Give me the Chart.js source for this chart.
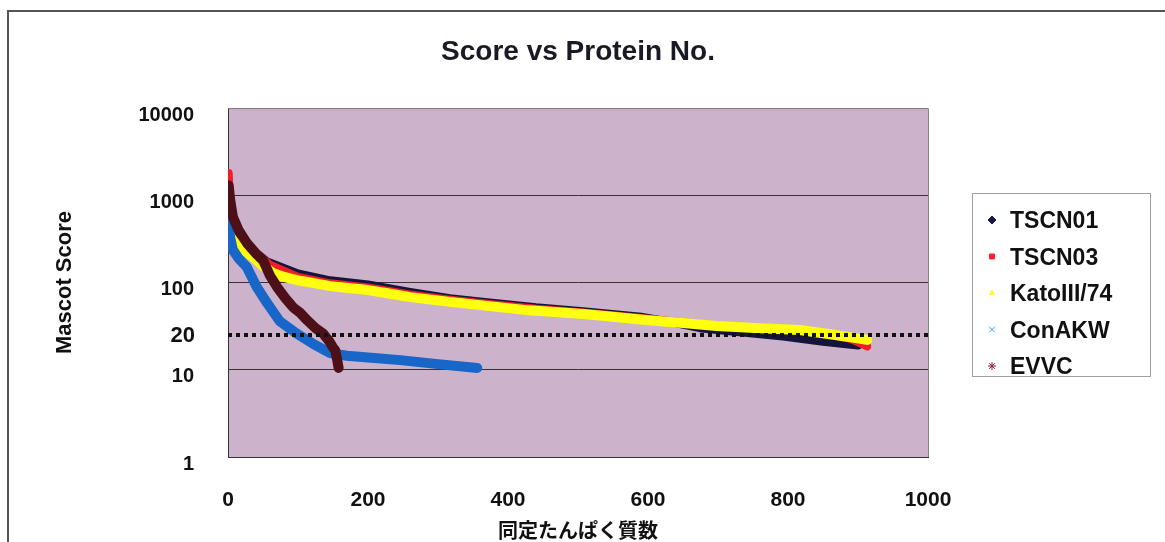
<!DOCTYPE html>
<html>
<head>
<meta charset="utf-8">
<script src="https://cdn.jsdelivr.net/npm/chart.js"></script>
<style>
  html, body { margin: 0; padding: 0; background: #fff; }
  canvas { display: block; }
</style>
</head>
<body>
<canvas id="scoreChart" width="1165" height="542"></canvas>
<script>
// protein rank (x) and Mascot score (y)
const tscn01Rank  = [1, 4, 10, 20, 40, 56, 100, 146, 200, 260, 317, 370, 440, 507, 590, 630, 674, 720, 793, 850, 900];
const tscn01Score = [1000, 600, 420, 320, 220, 175, 127, 106, 95, 78, 66, 59.5, 52, 47, 40.5, 35.5, 30, 27.5, 24, 21, 19];

const tscn03Rank  = [1, 3, 5, 10, 20, 30, 60, 100, 146, 200, 260, 317, 370, 440, 507, 590, 650, 700, 760, 817, 860, 890, 913];
const tscn03Score = [1800, 800, 640, 450, 330, 260, 160, 116, 98, 88, 73, 63.5, 57, 50, 45.5, 39.3, 35, 32, 30, 28.5, 25.5, 22.5, 18.5];

const katoRank  = [1, 4, 8, 15, 25, 36, 50, 64, 80, 100, 125, 146, 175, 200, 230, 260, 317, 370, 430, 507, 531, 600, 650, 698, 760, 817, 860, 890, 913];
const katoScore = [400, 330, 300, 260, 225, 195, 155, 129, 116, 106, 98, 91, 86, 82, 75, 68, 60, 54, 48, 43.5, 42, 37, 34.4, 31.8, 30, 28.6, 25.5, 23.5, 22];

const conakwRank  = [1, 3, 7, 15, 27, 41, 56, 74, 98, 121, 146, 170, 200, 246, 300, 356];
const conakwScore = [500, 330, 237, 190, 150, 89, 58, 36, 26, 20, 15.5, 14.5, 13.8, 12.9, 11.6, 10.5];

const evvcRank  = [1, 3, 7, 15, 27, 40, 50, 60, 70, 82, 93, 103, 113, 125, 136, 145, 150, 153, 156, 158];
const evvcScore = [1300, 900, 565, 400, 283, 215, 180, 120, 89, 66, 52, 45, 37, 30, 26, 21, 18, 16.8, 13, 10.5];

const seriesNames = ['TSCN01', 'TSCN03', 'KatoIII/74', 'ConAKW', 'EVVC'];
const yTicks = [1, 10, 100, 1000, 10000];
const xTicks = [0, 200, 400, 600, 800, 1000];
const thresholdScore = 25;
const thresholdLabel = '20';

function toPoints(ranks, scores) {
    return ranks.map((r, i) => ({ x: r, y: scores[i] }));
}

// line colour, legend marker colour, marker style
const seriesStyles = [
    { line: '#14143c', width: 8, marker: '#1a1a50', style: 'rectRot', radius: 4 },
    { line: '#f01e28', width: 8, marker: '#ff2030', style: 'rect', radius: 3.5 },
    { line: '#ffff10', width: 10, marker: '#ffff30', style: 'triangle', radius: 3 },
    { line: '#1866c8', width: 10, marker: '#38a0f0', style: 'crossRot', radius: 4 },
    { line: '#4e1018', width: 10, marker: '#8e1a30', style: 'star', radius: 4 }
];
const seriesData = [
    toPoints(tscn01Rank, tscn01Score),
    toPoints(tscn03Rank, tscn03Score),
    toPoints(katoRank, katoScore),
    toPoints(conakwRank, conakwScore),
    toPoints(evvcRank, evvcScore)
];

const datasets = seriesNames.map((name, i) => ({
    label: name,
    data: seriesData[i],
    borderColor: seriesStyles[i].line,
    backgroundColor: seriesStyles[i].line,
    borderWidth: seriesStyles[i].width,
    borderJoinStyle: 'round',
    borderCapStyle: 'round',
    pointRadius: 0,
    showLine: true,
    tension: 0,
    order: seriesNames.length - i
}));

datasets.push({
    label: 'threshold',
    data: [{ x: 0, y: thresholdScore }, { x: 1000, y: thresholdScore }],
    borderColor: '#111',
    borderWidth: 4,
    borderDash: [4, 4],
    borderCapStyle: 'butt',
    pointRadius: 0,
    showLine: true,
    order: 0
});

// frame, plot background and plot border
const backdrop = {
    id: 'backdrop',
    beforeDraw(chart) {
        const { ctx, chartArea: a } = chart;
        ctx.save();
        ctx.fillStyle = '#ccb2ca';
        ctx.fillRect(a.left, a.top, a.right - a.left, a.bottom - a.top);
        ctx.strokeStyle = '#555';
        ctx.lineWidth = 2;
        ctx.beginPath();
        ctx.moveTo(8, 542);
        ctx.lineTo(8, 11);
        ctx.lineTo(1165, 11);
        ctx.stroke();
        ctx.restore();
    },
    afterDraw(chart) {
        const { ctx, chartArea: a } = chart;
        ctx.save();
        ctx.strokeStyle = '#8a8090';
        ctx.lineWidth = 1;
        ctx.beginPath();
        ctx.moveTo(a.left, a.top + 0.5);
        ctx.lineTo(a.right + 0.5, a.top + 0.5);
        ctx.lineTo(a.right + 0.5, a.bottom);
        ctx.stroke();

        // the "20" label beside the dotted line
        const y = chart.scales.y.getPixelForValue(thresholdScore);
        ctx.fillStyle = '#111';
        ctx.font = 'bold 22px "Liberation Sans", Arial, sans-serif';
        ctx.textAlign = 'right';
        ctx.textBaseline = 'middle';
        ctx.fillText(thresholdLabel, 195, y + 1);
        ctx.restore();
    }
};

// boxed legend on the right
const boxLegend = {
    id: 'boxLegend',
    afterDraw(chart) {
        const ctx = chart.ctx;
        const box = { x: 972, y: 193, w: 178, h: 183 };
        ctx.save();
        ctx.fillStyle = '#fff';
        ctx.fillRect(box.x, box.y, box.w, box.h);
        ctx.strokeStyle = '#a0a0a0';
        ctx.lineWidth = 1;
        ctx.strokeRect(box.x + 0.5, box.y + 0.5, box.w, box.h);
        ctx.beginPath();
        ctx.rect(box.x, box.y, box.w, box.h);
        ctx.clip();

        ctx.font = 'bold 23px "Liberation Sans", Arial, sans-serif';
        ctx.textAlign = 'left';
        ctx.textBaseline = 'middle';
        seriesNames.forEach((name, i) => {
            const y = 222 + i * 36.5;
            const st = seriesStyles[i];
            ctx.fillStyle = st.marker;
            ctx.strokeStyle = st.marker;
            if (Chart.helpers && Chart.helpers.drawPoint) {
                Chart.helpers.drawPoint(ctx, {
                    pointStyle: st.style, radius: st.radius, rotation: 0, borderWidth: 1.5
                }, 992, y - 2);
            } else {
                ctx.fillRect(989, y - 5, 6, 6);
            }
            ctx.fillStyle = '#111';
            ctx.fillText(name, 1010, y);
        });
        ctx.restore();
    }
};

Chart.defaults.font.family = '"Liberation Sans", Arial, sans-serif';
Chart.defaults.color = '#111';

new Chart(document.getElementById('scoreChart').getContext('2d'), {
    type: 'scatter',
    data: { datasets: datasets },
    options: {
        responsive: false,
        animation: false,
        layout: { padding: { left: 0, right: 237, top: 0, bottom: 0 } },
        scales: {
            x: {
                type: 'linear',
                min: 0,
                max: 1000,
                afterFit(scale) { scale.height = 85; },
                afterBuildTicks(scale) { scale.ticks = xTicks.map(v => ({ value: v })); },
                grid: { display: false, drawTicks: false },
                border: { display: true, color: '#333', width: 1 },
                ticks: {
                    padding: 31,
                    color: '#111',
                    font: { family: '"Liberation Sans Narrow", "Liberation Sans", Arial, sans-serif', size: 21, weight: 'bold' },
                    callback: v => String(v)
                },
                title: {
                    display: true,
                    text: '同定たんぱく質数',
                    color: '#111',
                    font: { family: '"Noto Sans CJK JP", sans-serif', size: 20, weight: 'bold' },
                    padding: { top: 0, bottom: 0 }
                }
            },
            y: {
                type: 'logarithmic',
                min: 1,
                max: 10000,
                afterFit(scale) { scale.width = 228; },
                afterBuildTicks(scale) { scale.ticks = yTicks.map(v => ({ value: v })); },
                grid: { color: '#3a3038', lineWidth: 1, drawTicks: false },
                border: { display: true, color: '#333', width: 1 },
                ticks: {
                    padding: 34,
                    labelOffset: 7,
                    color: '#111',
                    font: { size: 20, weight: 'bold' },
                    callback: v => String(v)
                },
                title: {
                    display: true,
                    text: 'Mascot Score',
                    color: '#111',
                    font: { size: 22, weight: 'bold' },
                    padding: { top: 52, bottom: 0 }
                }
            }
        },
        plugins: {
            legend: { display: false },
            tooltip: { enabled: false },
            title: {
                display: true,
                fullSize: false,
                text: 'Score vs Protein No.',
                color: '#1a1a24',
                font: { size: 28, weight: 'bold' },
                padding: { top: 35.5, bottom: 39 }
            }
        }
    },
    plugins: [backdrop, boxLegend]
});
</script>
</body>
</html>
